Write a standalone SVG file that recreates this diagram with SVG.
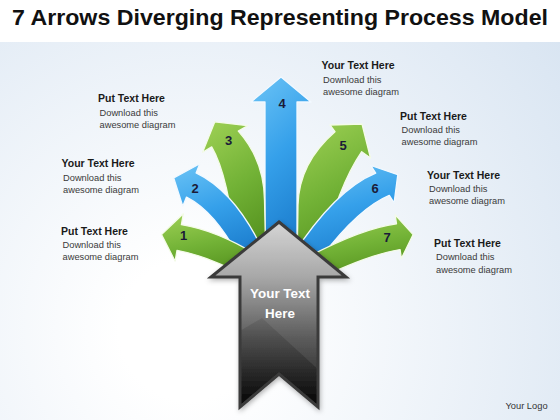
<svg xmlns="http://www.w3.org/2000/svg" width="560" height="420" viewBox="0 0 560 420">
  <defs>
    <radialGradient id="bg" cx="190" cy="330" r="470" gradientUnits="userSpaceOnUse">
      <stop offset="0.15" stop-color="#ffffff"/>
      <stop offset="1" stop-color="#d9e5f2"/>
    </radialGradient>
    <linearGradient id="green" x1="0" y1="0" x2="0.3" y2="1">
      <stop offset="0" stop-color="#9fd155"/>
      <stop offset="0.55" stop-color="#72b236"/>
      <stop offset="1" stop-color="#56931f"/>
    </linearGradient>
    <linearGradient id="blue" x1="0" y1="0" x2="0.3" y2="1">
      <stop offset="0" stop-color="#6cc4f6"/>
      <stop offset="0.5" stop-color="#35a0ea"/>
      <stop offset="1" stop-color="#1a7bcc"/>
    </linearGradient>
    <linearGradient id="dark" x1="0" y1="222" x2="0" y2="407" gradientUnits="userSpaceOnUse">
      <stop offset="0" stop-color="#d2d2d2"/>
      <stop offset="0.3" stop-color="#a0a0a0"/>
      <stop offset="0.62" stop-color="#505050"/>
      <stop offset="1" stop-color="#030303"/>
    </linearGradient>
    <filter id="shadow" x="-30%" y="-20%" width="160%" height="140%">
      <feDropShadow dx="1" dy="2" stdDeviation="2.5" flood-color="#000" flood-opacity="0.3"/>
    </filter>
    <style>
      .g { fill: url(#green); stroke: #f4fbe8; stroke-width: 1.3; stroke-linejoin: round; }
      .b { fill: url(#blue); stroke: #f2f9ff; stroke-width: 1.3; stroke-linejoin: round; }
      .num { font-family: "Liberation Sans", Arial, sans-serif; font-weight: bold; font-size: 13px; fill: #1b1b38; text-anchor: middle; }
      .hd { font-family: "Liberation Sans", Arial, sans-serif; font-weight: bold; font-size: 10.5px; fill: #1a1a1a; }
      .bd { font-family: "Liberation Sans", Arial, sans-serif; font-size: 9.3px; fill: #3a3a3a; }
      .ct { font-family: "Liberation Sans", Arial, sans-serif; font-weight: bold; font-size: 13.4px; fill: #ffffff; text-anchor: middle; }
    </style>
  </defs>

  <rect x="0" y="0" width="560" height="420" fill="url(#bg)"/>
  <rect x="0" y="0" width="560" height="42" fill="#ffffff"/>

  <text x="12" y="25" font-family="Liberation Sans, Arial, sans-serif" font-weight="bold" font-size="22" fill="#111111" textLength="536" lengthAdjust="spacingAndGlyphs">7 Arrows Diverging Representing Process Model</text>

  <g id="connectors"></g>

  <g id="arrow4">
    <path class="b" d="M281,77 L311,102 L297,102 L297,268 L265,268 L265,102 L251,102 Z"/>
    <text class="num" x="282" y="107.7">4</text>
  </g>
  <g id="arrow3">
    <path class="g" d="M214.8,121.8 L247.4,125.7 L238.3,131.1 Q264,160 264.5,200 L266,266 L238,266 Q229.6,177 211.7,146.9 L202.6,152.3 Z"/>
    <text class="num" x="228.5" y="144.7">3</text>
  </g>
  <g id="arrow5">
    <path class="g" d="M362,124 L370.5,158 L361.7,151.7 Q336.2,188.8 318,268 L297,268 L298,205 Q299,163 335,131.7 L330,125 Z"/>
    <text class="num" x="343" y="149.7">5</text>
  </g>
  <g id="arrow2">
    <path class="b" d="M173.7,178 L199.8,163.7 L196.1,172.9 Q237.7,192.9 266.9,259 L245.1,269 Q218.3,213.2 186.5,197.1 L182.8,206.3 Z"/>
    <text class="num" x="195" y="192.7">2</text>
  </g>
  <g id="arrow6">
    <path class="b" d="M397.8,174.7 L394.1,202.9 L389.3,195.3 Q353.9,210 310,272.7 L290,259.3 Q334.5,189.8 375.7,173.1 L370.9,165.5 Z"/>
    <text class="num" x="375" y="192.7">6</text>
  </g>
  <g id="arrow1">
    <path class="g" d="M161.5,234.5 L183.3,213.8 L181.4,224.7 Q218.4,230.7 261.1,257.7 L248.9,278.3 Q209,256.1 177,250.3 L175.1,261.2 Z"/>
    <text class="num" x="183.5" y="239.7">1</text>
  </g>
  <g id="arrow7">
    <path class="g" d="M413.1,234.6 L401.4,258.5 L400.1,249.6 Q367.8,254.5 310.5,282.6 L299.5,261.4 Q359.5,228.7 396.5,223.8 L395.2,214.9 Z"/>
    <text class="num" x="387" y="241.7">7</text>
  </g>

  <g id="center-arrow">
    <path d="M279,222 L346,277 L318,277 L318,407 L279,374 L240,407 L240,277 L211,277 Z" fill="url(#dark)" stroke="#3a3a3a" stroke-width="3" stroke-linejoin="miter" filter="url(#shadow)"/>
    <path d="M279,224.5 L341,275.5 L316.5,275.5 L316.5,368 L262,318 L241.5,330 L241.5,275.5 L216,275.5 Z" fill="#ffffff" opacity="0.08"/>
    <text class="ct" x="280" y="297.5">Your Text</text>
    <text class="ct" x="280" y="317.5">Here</text>
  </g>

  <g id="label3">
    <text class="hd" x="98" y="102">Put Text Here</text>
    <text class="bd" x="99.5" y="115.5">Download this</text>
    <text class="bd" x="99.5" y="127.5">awesome diagram</text>
  </g>
  <g id="label2">
    <text class="hd" x="61.5" y="167">Your Text Here</text>
    <text class="bd" x="63" y="180.5">Download this</text>
    <text class="bd" x="63" y="192.5">awesome diagram</text>
  </g>
  <g id="label1">
    <text class="hd" x="61" y="235">Put Text Here</text>
    <text class="bd" x="62.5" y="247.5">Download this</text>
    <text class="bd" x="62.5" y="260">awesome diagram</text>
  </g>
  <g id="label4">
    <text class="hd" x="321.5" y="69">Your Text Here</text>
    <text class="bd" x="323" y="82.5">Download this</text>
    <text class="bd" x="323" y="95">awesome diagram</text>
  </g>
  <g id="label5">
    <text class="hd" x="400" y="119.5">Put Text Here</text>
    <text class="bd" x="401.5" y="132.5">Download this</text>
    <text class="bd" x="401.5" y="144.5">awesome diagram</text>
  </g>
  <g id="label6">
    <text class="hd" x="427" y="179">Your Text Here</text>
    <text class="bd" x="429" y="191.5">Download this</text>
    <text class="bd" x="429" y="204">awesome diagram</text>
  </g>
  <g id="label7">
    <text class="hd" x="434" y="247">Put Text Here</text>
    <text class="bd" x="436" y="260">Download this</text>
    <text class="bd" x="436" y="272.5">awesome diagram</text>
  </g>

  <text x="505.5" y="408.5" font-family="Liberation Sans, Arial, sans-serif" font-size="9.3" fill="#333333">Your Logo</text>
</svg>
